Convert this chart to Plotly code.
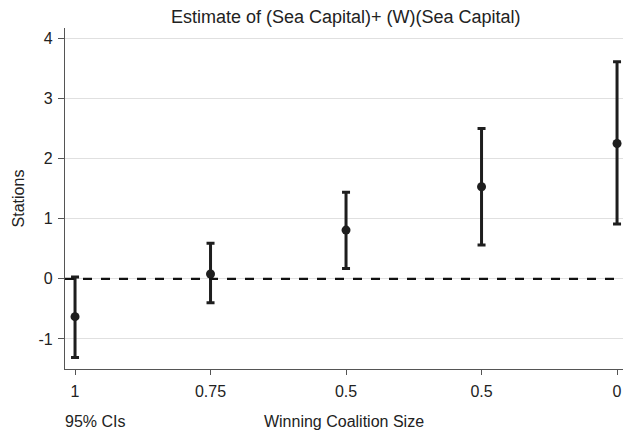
import plotly.graph_objects as go

categories = ["1", "0.75", "0.5", "0.5", "0"]
estimates = [-0.63, 0.08, 0.81, 1.53, 2.25]
ci_low = [-1.31, -0.40, 0.17, 0.56, 0.91]
ci_high = [0.03, 0.59, 1.44, 2.50, 3.61]
y_ticks = [-1, 0, 1, 2, 3, 4]
y_tick_labels = ["-1", "0", "1", "2", "3", "4"]

pos = list(range(len(categories)))
err_plus = [h - e for h, e in zip(ci_high, estimates)]
err_minus = [e - l for e, l in zip(estimates, ci_low)]

font = "Liberation Sans, Arial, sans-serif"

fig = go.Figure()
fig.add_trace(go.Scatter(
    x=pos, y=estimates, mode="markers", cliponaxis=False,
    marker=dict(color="#1e1e1e", size=9),
    error_y=dict(type="data", symmetric=False, array=err_plus, arrayminus=err_minus,
                 color="#1e1e1e", thickness=3, width=4),
    showlegend=False,
))
fig.add_shape(type="line", xref="paper", x0=0, x1=1, yref="y", y0=0, y1=0,
              line=dict(color="#111111", width=2.2, dash="dash"))

fig.update_layout(
    width=623, height=430,
    margin=dict(l=65, r=0, t=28, b=61),
    paper_bgcolor="white", plot_bgcolor="white",
    font=dict(family=font, size=16, color="#222222"),
    title=dict(text="Estimate of (Sea Capital)+ (W)(Sea Capital)", x=0.555, xanchor="center",
               y=0.962, yanchor="middle", font=dict(size=18, color="#222222")),
    xaxis=dict(
        tickmode="array", tickvals=pos, ticktext=categories,
        range=[-0.074, 4.044], showgrid=False, zeroline=False, automargin=False,
        showline=True, linecolor="#555555", linewidth=1.2,
        ticks="outside", ticklen=5, tickcolor="#555555", ticklabelstandoff=3,
        tickfont=dict(size=16),
        title=dict(text="Winning Coalition Size", font=dict(size=16), standoff=20),
    ),
    yaxis=dict(
        range=[-1.5, 4.17], tickmode="array", tickvals=y_ticks, ticktext=y_tick_labels,
        automargin=False,
        showgrid=True, gridcolor="#e0e0e0", gridwidth=1, zeroline=False,
        showline=True, linecolor="#555555", linewidth=1.2,
        ticks="outside", ticklen=6, tickcolor="#555555", ticklabelstandoff=2,
        tickfont=dict(size=16),
        title=dict(text="Stations", font=dict(size=16), standoff=9),
    ),
    annotations=[dict(text="95% CIs", xref="paper", yref="paper", x=-0.004, y=-0.155,
                      xanchor="left", yanchor="middle", showarrow=False,
                      font=dict(size=16, color="#222222"))],
)

fig.write_html("out.html", config={"displayModeBar": False},
               post_script="document.body.style.margin='0px';document.body.style.overflow='hidden';")
